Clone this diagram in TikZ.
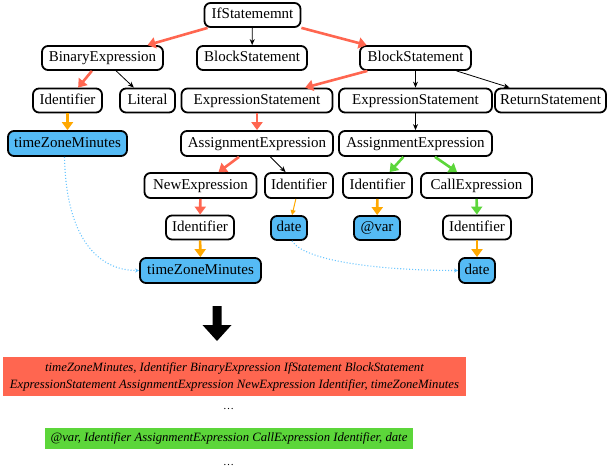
\documentclass[tikz,border=0pt]{standalone}
\usepackage{fontspec}
\setmainfont{Liberation Serif}
\newfontfamily\tnr{Liberation Serif}
\usetikzlibrary{arrows.meta}
\definecolor{redC}{HTML}{FF6650}
\definecolor{grnC}{HTML}{5CD63A}
\definecolor{orgC}{HTML}{FFA800}
\definecolor{bluC}{HTML}{55BBF5}
\definecolor{dotC}{HTML}{66C4FF}
\tikzset{
  tn/.style={draw=black, line width=1.8pt, rounded corners=6pt, fill=white,
    minimum height=24pt, inner sep=0pt, text height=10.5pt, text depth=3pt,
    font=\tnr\fontsize{15}{17}\selectfont},
  leaf/.style={tn, fill=bluC},
  redE/.style={draw=redC, line width=2.6pt, -{Triangle[width=11pt,length=8pt]}},
  grnE/.style={draw=grnC, line width=2.6pt, -{Triangle[width=11pt,length=8pt]}},
  orgE/.style={draw=orgC, line width=2.6pt, -{Triangle[width=11pt,length=8pt]}},
  orgThin/.style={draw=orgC, line width=1pt, -{Triangle[width=5pt,length=5pt]}},
  blk/.style={draw=black, line width=0.8pt, -{Stealth[width=5pt,length=6pt]}},
  dotE/.style={draw=dotC, line width=1.1pt, dash pattern=on 1pt off 2pt, -{Stealth[width=4pt,length=4pt]}},
  seqbox/.style={inner sep=0pt, align=center, font=\tnr\fontsize{12.7}{17}\selectfont\itshape},
}
\begin{document}
\begin{tikzpicture}[x=1pt,y=1pt]
\useasboundingbox (0,0) rectangle (608,-476);
% tree nodes
\node[tn, minimum width=96pt] (if) at (252.5,-15) {IfStatememnt};
\node[tn, minimum width=121pt] (bin) at (102.5,-58) {BinaryExpression};
\node[tn, minimum width=110pt] (blkM) at (252,-58) {BlockStatement};
\node[tn, minimum width=111pt] (blkR) at (415.5,-58) {BlockStatement};
\node[tn, minimum width=69pt] (idL) at (67.5,-100.5) {Identifier};
\node[tn, minimum width=55pt] (lit) at (147.5,-100.5) {Literal};
\node[tn, minimum width=151pt] (esL) at (257,-100.5) {ExpressionStatement};
\node[tn, minimum width=153pt] (esR) at (415.5,-100.5) {ExpressionStatement};
\node[tn, minimum width=111pt] (ret) at (550.5,-100.5) {ReturnStatement};
\node[leaf, minimum width=119pt, minimum height=25pt] (tz1) at (67.5,-143.5) {timeZoneMinutes};
\node[tn, minimum width=152pt, minimum height=25pt] (asL) at (257,-143.5) {AssignmentExpression};
\node[tn, minimum width=153pt, minimum height=25pt] (asR) at (415.5,-143.5) {AssignmentExpression};
\node[tn, minimum width=112pt, minimum height=25pt] (new) at (200.5,-185.5) {NewExpression};
\node[tn, minimum width=68pt, minimum height=25pt] (idM) at (299,-185.5) {Identifier};
\node[tn, minimum width=69pt, minimum height=25pt] (idR) at (377.5,-185.5) {Identifier};
\node[tn, minimum width=111pt, minimum height=25pt] (call) at (476.5,-185.5) {CallExpression};
\node[tn, minimum width=68pt] (idN) at (200,-227.5) {Identifier};
\node[leaf, minimum width=36pt] (dateM) at (289,-228) {date};
\node[leaf, minimum width=46pt] (var) at (377,-228) {@var};
\node[tn, minimum width=68pt] (idC) at (477,-227.5) {Identifier};
\node[leaf, minimum width=121pt, minimum height=25pt] (tz2) at (200.5,-270.5) {timeZoneMinutes};
\node[leaf, minimum width=36pt, minimum height=25pt] (dateR) at (477,-270.5) {date};
% edges
\draw[redE] (if) -- (bin);
\draw[blk] (if) -- (blkM);
\draw[redE] (if) -- (blkR);
\draw[redE] (bin) -- (idL);
\draw[blk] (bin) -- (lit);
\draw[orgE] (idL) -- (tz1);
\draw[redE] (blkR) -- (esL);
\draw[blk] (blkR) -- (esR);
\draw[blk] (blkR) -- (ret);
\draw[redE] (esL) -- (asL);
\draw[blk] (esR) -- (asR);
\draw[redE] (asL) -- (new);
\draw[blk] (asL) -- (idM);
\draw[grnE] (asR) -- (idR);
\draw[grnE] (asR) -- (call);
\draw[redE] (new) -- (idN);
\draw[orgThin] (idM) -- (dateM);
\draw[orgE] (idR) -- (var);
\draw[grnE] (call) -- (idC);
\draw[orgE] (idN) -- (tz2);
\draw[orgE] (idC) -- (dateR);
% dotted links
\draw[dotE] ([xshift=-3pt]tz1.south) .. controls (66,-238) and (98,-270.5) .. (tz2.west);
\draw[dotE] ([xshift=3pt]dateM.south) .. controls (305,-262) and (385,-270.5) .. (dateR.west);
% big arrow
\fill[black] (212.5,-306) -- (221.5,-306) -- (221.5,-325) -- (231.5,-325) -- (217,-341) -- (202.5,-325) -- (212.5,-325) -- cycle;
% sequences
\node[seqbox, fill=redC, minimum width=463pt, minimum height=39pt] (seq1) at (234.5,-376.5)
  {timeZoneMinutes, Identifier BinaryExpression IfStatement BlockStatement\\
   ExpressionStatement AssignmentExpression NewExpression Identifier, timeZoneMinutes};
\node[font=\tnr\fontsize{11}{13}\selectfont] (dots1) at (228.5,-409) {\dots};
\node[seqbox, fill=grnC, minimum width=368pt, minimum height=21pt] (seq2) at (229,-438.5)
  {@var, Identifier AssignmentExpression CallExpression Identifier, date};
\node[font=\tnr\fontsize{11}{13}\selectfont] (dots2) at (228.5,-465) {\dots};
\end{tikzpicture}
\end{document}
